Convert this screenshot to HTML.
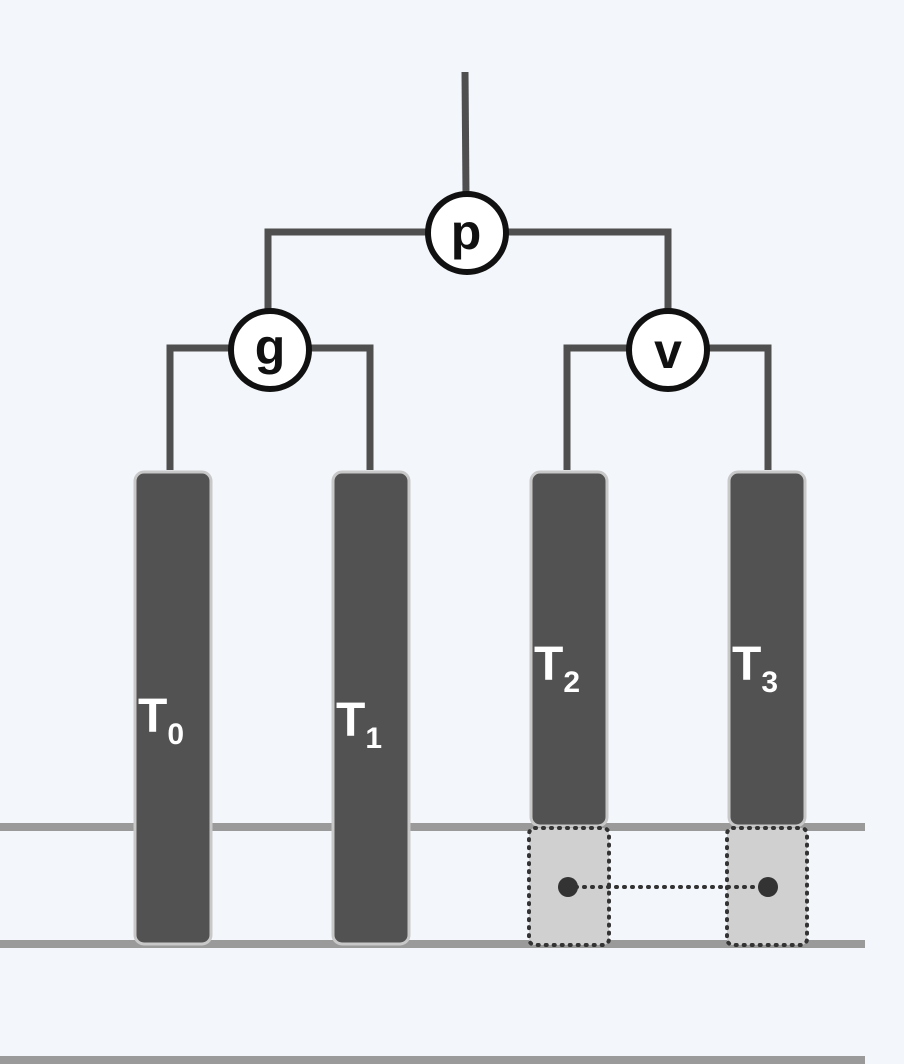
<!DOCTYPE html>
<html><head><meta charset="utf-8"><style>
html,body{margin:0;padding:0;background:#f3f6fa;}
svg{display:block;}
text{font-family:"Liberation Sans",sans-serif;}
</style></head><body>
<svg width="904" height="1064" viewBox="0 0 904 1064">
<rect width="904" height="1064" fill="#f3f6fa"/>
<g stroke="#9a9a9a" stroke-width="8">
<line x1="0" y1="827" x2="865" y2="827"/>
<line x1="0" y1="944" x2="865" y2="944"/>
<line x1="0" y1="1060" x2="865" y2="1060"/>
</g>
<g stroke="#4f4f4f" stroke-width="7" fill="none">
<line x1="465" y1="72" x2="466" y2="195"/>
<polyline points="268,310 268,232 668,232 668,310"/>
<polyline points="170,470 170,348 370,348 370,470"/>
<polyline points="567,470 567,348 768,348 768,470"/>
</g>
<g fill="#525252" stroke="#c8c8c8" stroke-width="3">
<rect x="135" y="472" width="76" height="472" rx="9"/>
<rect x="333" y="472" width="76" height="472" rx="9"/>
<rect x="531" y="472" width="76" height="354" rx="9"/>
<rect x="729" y="472" width="76" height="354" rx="9"/>
</g>
<g fill="#d0d0d0" stroke="#333" stroke-width="4" stroke-dasharray="1 7" stroke-linecap="round">
<rect x="529" y="828" width="80" height="117" rx="6"/>
<rect x="727" y="828" width="80" height="117" rx="6"/>
<line x1="568" y1="887" x2="768" y2="887"/>
</g>
<circle cx="568" cy="887" r="10" fill="#333"/>
<circle cx="768" cy="887" r="10" fill="#333"/>
<g fill="#fff" stroke="#111" stroke-width="6">
<circle cx="467" cy="233" r="39"/>
<circle cx="270" cy="350" r="39"/>
<circle cx="668" cy="350" r="39"/>
</g>
<g font-size="50" font-weight="bold" fill="#111" text-anchor="middle">
<text x="466" y="249">p</text>
<text x="270" y="364">g</text>
<text x="668" y="368">v</text>
</g>
<g fill="#fff" font-size="48" font-weight="bold">
<text x="138" y="732">T<tspan font-size="30" dy="12">0</tspan></text>
<text x="336" y="736">T<tspan font-size="30" dy="12">1</tspan></text>
<text x="534" y="680">T<tspan font-size="30" dy="12">2</tspan></text>
<text x="732" y="680">T<tspan font-size="30" dy="12">3</tspan></text>
</g>
</svg>
</body></html>
